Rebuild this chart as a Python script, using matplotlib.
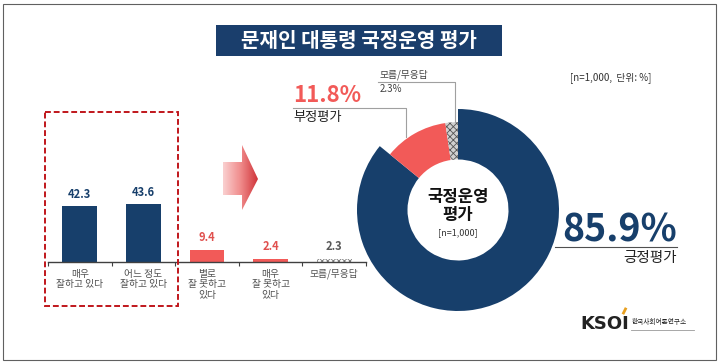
import matplotlib
matplotlib.use("Agg")
import matplotlib.pyplot as plt
import numpy as np
from matplotlib.patches import Rectangle, Polygon
from matplotlib.colors import LinearSegmentedColormap

plt.rcParams['font.family'] = ['Noto Sans CJK KR', 'DejaVu Sans']
plt.rcParams['hatch.linewidth'] = 0.6

# ---------------- data ----------------
title = "문재인 대통령 국정운영 평가"
bar_labels = ["매우\n잘하고 있다", "어느 정도\n잘하고 있다", "별로\n잘 못하고\n있다",
              "매우\n잘 못하고\n있다", "모름/무응답"]
bar_values = [42.3, 43.6, 9.4, 2.4, 2.3]
donut_labels = ["긍정평가", "부정평가", "모름/무응답"]
donut_values = [85.9, 11.8, 2.3]
note = "[n=1,000,  단위: %]"

NAVY = "#173F6B"
RED = "#F25A58"

W, H = 720, 364
fig = plt.figure(figsize=(W / 100, H / 100), dpi=100)
fig.patch.set_facecolor("white")


def fx(px):
    return px / W


def fy(py):
    return (H - py) / H


# ---------------- bar chart ----------------
x0, x1, base = 48, 366, 262
ppu = 1.32
ymax = 50
axb = fig.add_axes([fx(x0), fy(base), (x1 - x0) / W, ymax * ppu / H])
bar_colors = [NAVY, NAVY, RED, RED, "white"]
label_colors = [NAVY, NAVY, "#E0504E", "#E0504E", "#595959"]
xs = np.arange(len(bar_values))
bars = axb.bar(xs, bar_values, width=0.55, color=bar_colors, zorder=2)
bars[4].set_hatch("xxxxxx")
bars[4].set_edgecolor("#777777")
bars[4].set_linewidth(0)
for i, v in enumerate(bar_values):
    axb.annotate(f"{v:.1f}", (xs[i], v), xytext=(0, 4), textcoords="offset points",
                 ha="center", va="bottom", fontsize=8, fontweight="bold",
                 color=label_colors[i])
axb.set_xlim(-0.5, len(bar_values) - 0.5)
axb.set_ylim(0, ymax)
for s in ["top", "left", "right"]:
    axb.spines[s].set_visible(False)
axb.spines["bottom"].set_color("#404040")
axb.spines["bottom"].set_linewidth(1.0)
axb.set_yticks([])
axb.set_xticks(xs)
axb.set_xticklabels(bar_labels, fontsize=7, color="#505050", linespacing=1.05)
axb.tick_params(axis="x", which="major", length=0, pad=5)
axb.set_xticks(np.arange(-0.5, len(bar_values)), minor=True)
axb.tick_params(axis="x", which="minor", length=3, color="#404040", width=0.8)
axb.patch.set_alpha(0)

# ---------------- donut ----------------
cx, cy, R = 458, 210, 101
axp = fig.add_axes([fx(cx - R), fy(cy + R), 2 * R / W, 2 * R / H])
w1, _ = axp.pie(donut_values, colors=[NAVY, "none", "none"], radius=1.0,
                startangle=90, counterclock=False,
                wedgeprops=dict(width=0.5, linewidth=0))
w2, _ = axp.pie(donut_values, colors=["none", RED, "#D0D0D0"], radius=0.87,
                startangle=90, counterclock=False,
                wedgeprops=dict(width=0.37, linewidth=0))
w2[2].set_hatch("xxxxx")
w2[2].set_edgecolor("#555555")
axp.set_xlim(-1, 1)
axp.set_ylim(-1, 1)
axp.set_aspect("auto")
axp.axis("off")

# ---------------- overlay ----------------
ov = fig.add_axes([0, 0, 1, 1], zorder=10)
ov.set_xlim(0, W)
ov.set_ylim(H, 0)
ov.axis("off")
ov.patch.set_alpha(0)

# frame
ov.add_patch(Rectangle((3, 4), 713, 356, fill=False, edgecolor="#606060", lw=0.8))

# title box
ov.add_patch(Rectangle((216, 25), 286, 31, facecolor="#1A3E6C", edgecolor="none"))
ov.text(359, 40.5, title, ha="center", va="center", color="white",
        fontsize=14.5, fontweight="bold")

# note
ov.text(611, 78, note, ha="center", va="center", fontsize=7, color="#333333")

# dashed box
ov.add_patch(Rectangle((45, 112), 133, 194, fill=False, edgecolor="#C0161B",
                       lw=1.4, linestyle=(0, (3, 1.5))))

# gradient arrow
arrow = Polygon([(223, 162), (242, 162), (242, 145), (258, 179), (242, 210),
                 (242, 195), (223, 195)], closed=True, facecolor="none",
                edgecolor="none")
ov.add_patch(arrow)
grad = np.linspace(0, 1, 64).reshape(1, -1)
cmap = LinearSegmentedColormap.from_list("g", ["#FAD0D0", "#F08C8C", "#D0343A"])
im = ov.imshow(grad, extent=(223, 258, 210, 145), cmap=cmap, aspect="auto",
               interpolation="bicubic")
im.set_clip_path(arrow)
ov.set_xlim(0, W)
ov.set_ylim(H, 0)

# donut labels
lc = "#A0A0A0"
ov.text(293, 96, f"{donut_values[1]:.1f}%", ha="left", va="center", fontsize=16,
        fontweight="bold", color=RED)
ov.plot([293, 406, 406], [108, 108, 137], color=lc, lw=0.8)
ov.text(293, 117, donut_labels[1], ha="left", va="center", fontsize=9.5,
        color="#222222")

ov.text(380, 75, donut_labels[2], ha="left", va="center", fontsize=7,
        color="#404040")
ov.text(380, 89, f"{donut_values[2]:.1f}%", ha="left", va="center", fontsize=7,
        color="#404040")
ov.plot([378, 455, 455], [82, 82, 122], color=lc, lw=0.8)

ov.text(677, 230, f"{donut_values[0]:.1f}%", ha="right", va="center", fontsize=27,
        fontweight="bold", color=NAVY)
ov.plot([555, 677], [247, 247], color="#505050", lw=0.8)
ov.text(677, 258, donut_labels[0], ha="right", va="center", fontsize=10.5,
        color="#222222")

# donut center
ov.text(cx, 206, "국정운영\n평가", ha="center", va="center", fontsize=12,
        fontweight="bold", color="#111111", linespacing=1.0)
ov.text(cx, 233, "[n=1,000]", ha="center", va="center", fontsize=6.5,
        color="#333333")

# logo
ov.text(580, 324, "KSOI", ha="left", va="center", fontsize=13, fontweight="bold",
        color="#222222", family=["DejaVu Sans"])
ov.plot([623.5, 625.5], [313, 309], color="#E8A020", lw=2)
ov.text(632, 322, "한국사회여론연구소", ha="left", va="center", fontsize=4.8,
        color="#222222")
ov.plot([631, 694], [330, 330], color="#999999", lw=0.6)

fig.savefig("out.png", dpi=100, facecolor="white")
